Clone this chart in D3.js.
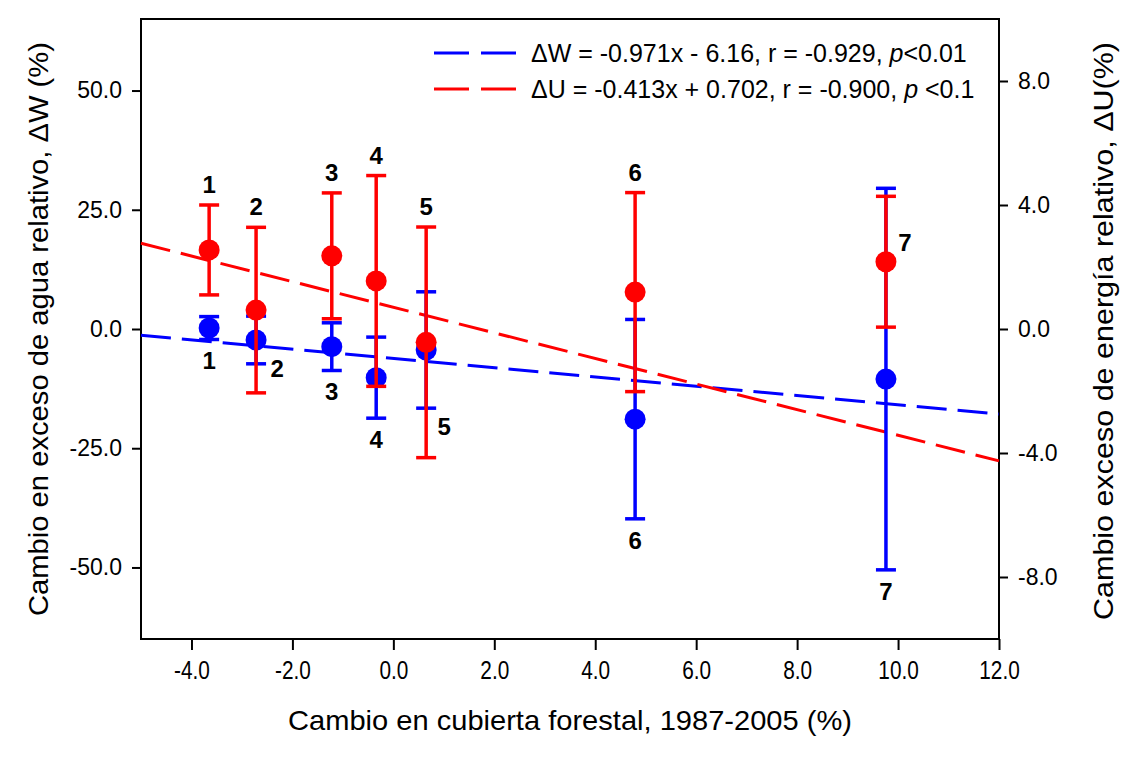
<!DOCTYPE html>
<html>
<head>
<meta charset="utf-8">
<script src="https://cdn.jsdelivr.net/npm/d3@7"></script>
<style>
  html, body { margin: 0; padding: 0; background: #ffffff; }
  svg { display: block; }
  text { font-family: "Liberation Sans", Arial, sans-serif; fill: #000; }
</style>
</head>
<body>
<svg id="chart" width="1128" height="776"></svg>
<script>
// ---- data ----
const ids = ["1", "2", "3", "4", "5", "6", "7"];
const forestChange = [-3.65, -2.72, -1.22, -0.34, 0.65, 4.79, 9.76];
const waterMean = [0.2, -2.3, -3.7, -10.2, -4.4, -18.9, -10.5];
const waterErr = [2.4, 5.0, 5.0, 8.5, 12.2, 20.9, 40.0];
const energyMean = [2.55, 0.61, 2.36, 1.55, -0.43, 1.19, 2.17];
const energyErr = [1.45, 2.67, 2.03, 3.4, 3.72, 3.21, 2.11];
const xTicks = [-4, -2, 0, 2, 4, 6, 8, 10, 12];
const yLeftTicks = [-50, -25, 0, 25, 50];
const yRightTicks = [-8, -4, 0, 4, 8];
const fitW = { slope: -0.971, intercept: -6.16 };
const fitU = { slope: -0.413, intercept: 0.702 };
const xDomain = [-5, 12];
const yLeftDomain = [-65, 65];
const yRightDomain = [-10, 10];

// ---- layout ----
const L = 141, R = 999, T = 19, B = 639;
const BLUE = "#0000ff", RED = "#ff0000";
const svg = d3.select("#chart");

const x = d3.scaleLinear().domain(xDomain).range([L, R]);
const yL = d3.scaleLinear().domain(yLeftDomain).range([B, T]);
const yR = d3.scaleLinear().domain(yRightDomain).range([B, T]);

// axes (plain hyphen-minus like the original)
const fmt = d => d.toFixed(1);
const axL = svg.append("g").attr("transform", `translate(${L},0)`)
  .call(d3.axisLeft(yL).tickValues(yLeftTicks).tickFormat(fmt).tickSize(9).tickPadding(10));
const axR = svg.append("g").attr("transform", `translate(${R},0)`)
  .call(d3.axisRight(yR).tickValues(yRightTicks).tickFormat(fmt).tickSize(9).tickPadding(10));
const axB = svg.append("g").attr("transform", `translate(0,${B})`)
  .call(d3.axisBottom(x).tickValues(xTicks).tickFormat(fmt).tickSize(11).tickPadding(11));
[axL, axR, axB].forEach(g => {
  g.select(".domain").remove();
  g.selectAll(".tick line").attr("stroke", "#000").attr("stroke-width", 2);
  g.selectAll(".tick text").attr("font-size", 23).attr("font-family", "Liberation Sans, Arial, sans-serif");
});
axB.selectAll(".tick text").attr("font-size", 26).attr("transform", "scale(0.8,1)");

// frame
svg.append("rect").attr("x", L).attr("y", T).attr("width", R - L).attr("height", B - T)
  .attr("fill", "none").attr("stroke", "#000").attr("stroke-width", 2);

// regression lines
const dash = "30,11";
svg.append("line")
  .attr("x1", x(xDomain[0])).attr("y1", yL(fitW.slope * xDomain[0] + fitW.intercept))
  .attr("x2", x(xDomain[1])).attr("y2", yL(fitW.slope * xDomain[1] + fitW.intercept))
  .attr("stroke", BLUE).attr("stroke-width", 3).attr("stroke-dasharray", dash);
svg.append("line")
  .attr("x1", x(xDomain[0])).attr("y1", yR(fitU.slope * xDomain[0] + fitU.intercept))
  .attr("x2", x(xDomain[1])).attr("y2", yR(fitU.slope * xDomain[1] + fitU.intercept))
  .attr("stroke", RED).attr("stroke-width", 3).attr("stroke-dasharray", dash);

// series drawing
function drawSeries(means, errs, yScale, color) {
  const data = ids.map((id, i) => ({ id, x: forestChange[i], m: means[i], e: errs[i] }));
  const g = svg.append("g");
  const cap = 10;
  data.forEach(d => {
    const cx = x(d.x), yt = yScale(d.m + d.e), yb = yScale(d.m - d.e);
    g.append("line").attr("x1", cx).attr("x2", cx).attr("y1", yt).attr("y2", yb)
      .attr("stroke", color).attr("stroke-width", 3.5);
    g.append("line").attr("x1", cx - cap).attr("x2", cx + cap).attr("y1", yt).attr("y2", yt)
      .attr("stroke", color).attr("stroke-width", 3.5);
    g.append("line").attr("x1", cx - cap).attr("x2", cx + cap).attr("y1", yb).attr("y2", yb)
      .attr("stroke", color).attr("stroke-width", 3.5);
  });
  g.selectAll("circle").data(data).join("circle")
    .attr("cx", d => x(d.x)).attr("cy", d => yScale(d.m)).attr("r", 10.5)
    .attr("fill", color);
  return data;
}
const blue = drawSeries(waterMean, waterErr, yL, BLUE);
const red = drawSeries(energyMean, energyErr, yR, RED);

// point labels
const lab = svg.append("g").attr("font-size", 24).attr("font-weight", "bold").attr("text-anchor", "middle");
const blueSide = ["below", "right", "below", "below", "belowright", "below", "below"];
blue.forEach((d, i) => {
  const cx = x(d.x), yb = yL(d.m - d.e);
  let px = cx, py = yb + 30;
  if (blueSide[i] === "right") { px = cx + 21; py = yb + 13; }
  if (blueSide[i] === "belowright") { px = cx + 18; py = yb + 27; }
  lab.append("text").attr("x", px).attr("y", py).text(d.id);
});
const redSide = ["above", "above", "above", "above", "above", "above", "right"];
red.forEach((d, i) => {
  const cx = x(d.x), yt = yR(d.m + d.e);
  let px = cx, py = yt - 12;
  if (redSide[i] === "right") { px = cx + 19; py = yR(d.m) - 11; }
  lab.append("text").attr("x", px).attr("y", py).text(d.id);
});

// legend
const leg = svg.append("g");
const legRows = [
  { color: BLUE, y: 53, parts: ["\u0394W = -0.971x - 6.16, r = -0.929, ", "p", "<0.01"] },
  { color: RED, y: 89, parts: ["\u0394U = -0.413x + 0.702, r = -0.900, ", "p", " <0.1"] }
];
legRows.forEach(r => {
  leg.append("line").attr("x1", 434).attr("x2", 516).attr("y1", r.y).attr("y2", r.y)
    .attr("stroke", r.color).attr("stroke-width", 3).attr("stroke-dasharray", "35,12");
  const t = leg.append("text").attr("x", 531).attr("y", r.y + 9).attr("font-size", 25);
  t.append("tspan").text(r.parts[0]);
  t.append("tspan").attr("font-style", "italic").text(r.parts[1]);
  t.append("tspan").text(r.parts[2]);
});

// axis titles
svg.append("text").attr("x", (L + R) / 2).attr("y", 730).attr("text-anchor", "middle")
  .attr("font-size", 28).attr("textLength", 564).attr("lengthAdjust", "spacingAndGlyphs")
  .text("Cambio en cubierta forestal, 1987-2005 (%)");
svg.append("text").attr("transform", "translate(48,329) rotate(-90)").attr("text-anchor", "middle")
  .attr("font-size", 27).attr("textLength", 574).attr("lengthAdjust", "spacingAndGlyphs")
  .text("Cambio en exceso de agua relativo, \u0394W (%)");
svg.append("text").attr("transform", "translate(1113,331) rotate(-90)").attr("text-anchor", "middle")
  .attr("font-size", 27).attr("textLength", 578).attr("lengthAdjust", "spacingAndGlyphs")
  .text("Cambio exceso de energía relativo, \u0394U(%)");
</script>
</body>
</html>
